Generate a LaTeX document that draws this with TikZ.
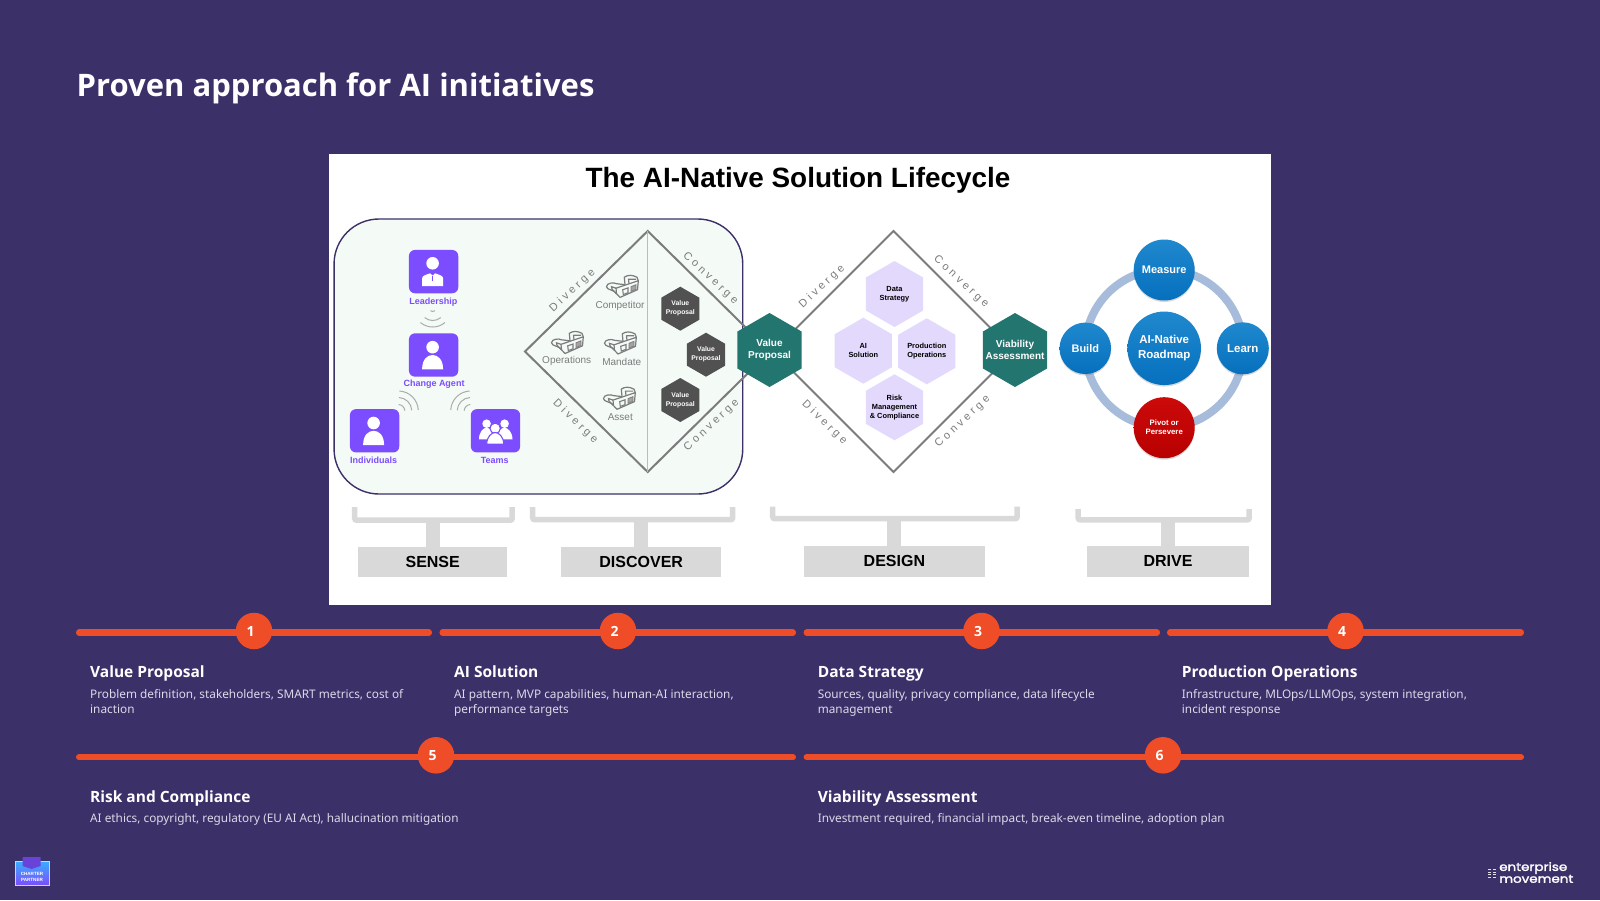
\documentclass[tikz,border=0pt]{standalone}
\usepackage{fontspec}
\setmainfont{Noto Sans}
\newfontfamily\headfont{Open Sans}
\newfontfamily\arialfont{Liberation Sans}
\newfontfamily\arialspaced[LetterSpace=30]{Liberation Sans}
\newfontfamily\logofont[FakeBold=2]{Poppins}
\usetikzlibrary{shapes.geometric,shadows}
\definecolor{bgcol}{HTML}{3C3069}
\definecolor{barcol}{HTML}{EE4D27}
\definecolor{tealcol}{HTML}{23756F}
\definecolor{darkhex}{HTML}{515151}
\definecolor{lilac}{HTML}{E2D9FC}
\definecolor{iconcol}{HTML}{7C4DFF}
\definecolor{greencol}{HTML}{F4FAF6}
\definecolor{linecol}{HTML}{7C7C7C}
\definecolor{softgray}{HTML}{D9D9D9}
\definecolor{wificol}{HTML}{ABABAB}
\definecolor{bodycol}{HTML}{DDD9E9}
\definecolor{ringcol}{HTML}{A7BBDA}
\definecolor{balltop}{HTML}{1F88CE}
\definecolor{ballbot}{HTML}{0670BE}
\definecolor{redtop}{HTML}{CC0A0A}
\definecolor{redbot}{HTML}{B80000}
\tikzset{
  hexbase/.style={regular polygon,regular polygon sides=6,shape border rotate=30,inner sep=0pt},
  tealhex/.style={hexbase,minimum size=74pt,fill=tealcol},
  darkh/.style={hexbase,minimum size=44pt,fill=darkhex},
  lilachex/.style={hexbase,minimum size=66pt,fill=lilac},
  tealtext/.style={text=white,align=center,inner sep=0pt,font=\arialfont\bfseries\fontsize{10}{11.3}\selectfont},
  darktext/.style={text=white,align=center,inner sep=0pt,font=\arialfont\bfseries\fontsize{6.8}{9}\selectfont},
  lilactext/.style={text=black,align=center,inner sep=0pt,font=\arialfont\bfseries\fontsize{7.4}{9}\selectfont},
  ball/.style 2 args={circle,inner sep=0pt,align=center,text=white,top color=#1,bottom color=#2,
    drop shadow={opacity=.3,shadow xshift=0pt,shadow yshift=-1.5pt},font=\arialfont\bfseries\fontsize{11}{15}\selectfont},
  iconbox/.style={fill=iconcol,rounded corners=6pt,minimum width=49.3pt,minimum height=43.3pt,inner sep=0pt},
  iconlabel/.style={text=iconcol,inner sep=0pt,font=\arialfont\bfseries\fontsize{9}{10}\selectfont},
  lenslabel/.style={text=linecol,inner sep=0pt,font=\arialfont\fontsize{10}{11}\selectfont},
  slanted/.style={text=linecol,inner sep=0pt,font=\arialspaced\fontsize{11}{12}\selectfont},
  diamondline/.style={draw=linecol,line width=2pt},
  wifi/.style={draw=wificol,line width=1pt},
  bracket/.style={draw=softgray,line width=5.5pt,rounded corners=2pt},
  stem/.style={draw=softgray,line width=14pt},
  phasebox/.style={fill=softgray,inner sep=0pt,font=\arialfont\bfseries\fontsize{16}{18}\selectfont},
  barline/.style={draw=barcol,line width=6.5pt,line cap=round},
  numdot/.style={circle,fill=barcol,minimum size=36.5pt,inner sep=0pt},
  numtext/.style={text=white,inner sep=0pt,font=\headfont\bfseries\fontsize{14}{16}\selectfont},
  headtext/.style={text=white,anchor=base west,inner sep=0pt,font=\headfont\bfseries\fontsize{15.5}{18}\selectfont},
  bodytext/.style={text=bodycol,anchor=base west,inner sep=0pt,font=\fontsize{11.8}{15}\selectfont},
  pics/personicon/.style={code={
    \fill[white] (-1,7.8) circle (6.3);
    \fill[white] (-11.5,-14.3) .. controls (-11.5,-4) and (-6,0) .. (-1,0) .. controls (4,0) and (9.5,-4) .. (9.5,-14.3) -- cycle;
  }},
  pics/leadericon/.style={code={
    \fill[white] (-1,8.3) circle (6.3);
    \fill[white] (-11.5,-14.4) -- (-11.5,-6.5) .. controls (-11.5,-4) and (-7,-3) .. (-3.5,-1.7) -- (-1,-4) -- (1.5,-1.7) .. controls (5,-3) and (9.5,-4) .. (9.5,-6.5) -- (9.5,-14.4) -- cycle;
    \draw[iconcol,line width=1.2pt] (-1,-4) -- (-1,-9);
  }},
  pics/teamicon/.style={code={
    \fill[white] (-8.9,7.1) circle (4.3);
    \fill[white] (9.1,7.1) circle (4.3);
    \fill[white] (-16.5,-8.5) .. controls (-16.5,-1) and (-12,3.1) .. (-9,3.1) .. controls (-6,3.1) and (-1,-1) .. (-1,-8.5) -- cycle;
    \fill[white] (1,-8.5) .. controls (1,-1) and (6,3.1) .. (9,3.1) .. controls (12,3.1) and (17,-1) .. (17,-8.5) -- cycle;
    \fill[white,draw=iconcol,line width=1.1pt] (-0.3,2.5) circle (5.2);
    \fill[white,draw=iconcol,line width=1.1pt] (-8.8,-13.4) .. controls (-8.8,-6) and (-4,-1.7) .. (-0.3,-1.7) .. controls (3.4,-1.7) and (8.2,-6) .. (8.2,-13.4) -- cycle;
  }},
  pics/glasses/.style={code={
    \draw[linecol,line width=1.2pt,line join=round] (-6,-1.5) -- (16.3,6) -- (15.5,-3) -- (-2,-10.7) -- (-5.5,-7) -- cycle;
    \draw[linecol,line width=1.2pt,line join=round] (3,2) -- (2.3,9.5) .. controls (6,12) and (10,12) .. (15,9.5) -- (16.3,6);
    \draw[linecol,line width=1.2pt,line join=round] (7,3) -- (6.5,7.5) -- (14,7.5);
    \draw[linecol,line width=1.2pt] (-5.5,-7) .. controls (-7,-3) and (-15.5,-3.5) .. (-15.5,0) .. controls (-15.5,4) and (-8,4.5) .. (-5.5,3) -- (3,2);
    \draw[linecol,line width=1.2pt] (-5.5,-7) .. controls (-7,-5) and (-11,-3) .. (-10.5,0) -- (-6,-1.5);
    \draw[linecol,line width=1.1pt] (0.7,-3) -- (6,-1.2) -- (6,-6) -- (1.3,-7.8) -- cycle;
    \draw[linecol,fill=linecol!70,line width=.8pt] (9,0) -- (14,2) -- (14,-2.7) -- (9,-4.7) -- cycle;
  }},
}
\begin{document}
\begin{tikzpicture}[x=1pt,y=1pt]
\useasboundingbox (0,-900) rectangle (1600,0);
\fill[bgcol] (0,-900) rectangle (1600,0);
\node[text=white,anchor=base west,inner sep=0pt,font=\headfont\bfseries\fontsize{31}{36}\selectfont] (title) at (76.5,-96) {Proven approach for AI initiatives};
% white panel
\fill[white] (329,-154) rectangle (1271,-605);
\node[anchor=base,inner sep=0pt,font=\arialfont\bfseries\fontsize{27.9}{32}\selectfont] (paneltitle) at (798,-187) {The AI-Native Solution Lifecycle};
\node[draw=bgcol,fill=greencol,line width=1.4pt,rounded corners=45pt,minimum width=408.7pt,minimum height=275pt,inner sep=0pt] (sensearea) at (538.4,-356.5) {};
% sense icons
\node[iconbox] (leader) at (433.6,-271.6) {};
\node[iconbox] (agent) at (433.6,-355) {};
\node[iconbox] (indiv) at (374.6,-430.8) {};
\node[iconbox] (teams) at (495.5,-430.8) {};
\pic at (leader) {leadericon};
\pic at (agent) {personicon};
\pic at (indiv) {personicon};
\pic at (teams) {teamicon};
\node[iconlabel] (leaderlabel) at (433.3,-301.7) {Leadership};
\node[iconlabel] (agentlabel) at (434,-384.3) {Change Agent};
\node[iconlabel] (indivlabel) at (373.7,-460) {Individuals};
\node[iconlabel] (teamslabel) at (494.7,-460) {Teams};
\foreach \r in {3.5,12.5,19} \draw[wifi] ([shift={(230:\r)}]432.7,-308) arc (230:310:\r);
\foreach \r in {6.5,13.5,20} {
  \draw[wifi] ([shift={(3:\r)}]398.3,-411) arc (3:87:\r);
  \draw[wifi] ([shift={(93:\r)}]470.7,-411) arc (93:177:\r);
}
% diamonds
\draw[diamondline] (525,-351.5) -- (647.7,-231) -- (770,-351.5) -- (647.7,-472) -- cycle;
\draw[draw=wificol!80,line width=1pt] (647.7,-231) -- (647.7,-472);
\draw[diamondline] (773,-351.5) -- (893.5,-231) -- (1014,-351.5) -- (893.5,-472) -- cycle;
\node[slanted,rotate=43] (dvga) at (572.5,-290.5) {Diverge};
\node[slanted,rotate=-43] (cvga) at (710.3,-278.3) {Converge};
\node[slanted,rotate=-44] (dvgb) at (575.3,-421.7) {Diverge};
\node[slanted,rotate=43] (cvgb) at (711.7,-425) {Converge};
\node[slanted,rotate=43] (dvgc) at (822,-286.8) {Diverge};
\node[slanted,rotate=-43] (cvgc) at (961,-282) {Converge};
\node[slanted,rotate=-44] (dvgd) at (824.4,-422.7) {Diverge};
\node[slanted,rotate=43] (cvgd) at (962.7,-421.7) {Converge};
% glasses
\pic at (622,-286.7) {glasses};
\pic at (567,-342.8) {glasses};
\pic at (620,-343.3) {glasses};
\pic at (619,-398.6) {glasses};
\node[lenslabel] (competitor) at (620,-306.3) {Competitor};
\node[lenslabel] (operations) at (566.7,-361) {Operations};
\node[lenslabel] (mandate) at (621.7,-361.7) {Mandate};
\node[lenslabel] (asset) at (620.3,-416.7) {Asset};
% hexagons
\foreach \name/\x/\y in {vpa/680.3/308.7,vpb/706/354.7,vpc/680.3/400} {
  \node[darkh] (\name) at (\x,-\y) {};
  \node[darktext] (\name text) at (\name) {Value\\Proposal};
}
\node[tealhex] (valueprop) at (769.5,-350) {};
\node[tealtext] (valuetext) at (valueprop) {Value\\Proposal};
\node[tealhex] (viability) at (1015,-350) {};
\node[tealtext] (viabtext) at (viability) {Viability\\Assessment};
\node[lilachex] (datastrat) at (894.5,-294) {};
\node[lilachex] (aisol) at (863.3,-350.7) {};
\node[lilachex] (prodops) at (926.8,-351.3) {};
\node[lilachex] (riskmgmt) at (894.5,-407.3) {};
\node[lilactext] (datatext) at (datastrat) {Data\\Strategy};
\node[lilactext] (aitext) at (aisol) {AI\\Solution};
\node[lilactext] (prodtext) at (prodops) {Production\\Operations};
\node[lilactext] (risktext) at (riskmgmt) {Risk\\Management\\\& Compliance};
% drive ring
\draw[ringcol,line width=8pt] (1164.2,-348.5) circle (79);
\node[ball={balltop}{ballbot},minimum size=61pt] (measure) at (1164.2,-270) {Measure};
\node[ball={balltop}{ballbot},minimum size=73.5pt,font=\arialfont\bfseries\fontsize{11.5}{15}\selectfont] (roadmap) at (1164.2,-348.3) {AI-Native\\Roadmap};
\node[ball={balltop}{ballbot},minimum size=51.5pt] (build) at (1085.3,-348.3) {Build};
\node[ball={balltop}{ballbot},minimum size=52pt,font=\arialfont\bfseries\fontsize{11.5}{15}\selectfont] (learn) at (1242.8,-348.3) {Learn};
\node[ball={redtop}{redbot},minimum size=61pt,font=\arialfont\bfseries\fontsize{7.8}{9}\selectfont] (pivot) at (1164.2,-427.7) {Pivot or\\Persevere};
% phase labels
\node[phasebox,minimum width=148.5pt,minimum height=30pt] (sense) at (432.7,-561.7) {\raisebox{-2.2pt}{SENSE}};
\node[phasebox,minimum width=159.5pt,minimum height=30pt] (discover) at (641.2,-561.7) {\raisebox{-2.2pt}{DISCOVER}};
\node[phasebox,minimum width=181pt,minimum height=31pt] (design) at (894.4,-561.2) {\raisebox{-3pt}{DESIGN}};
\node[phasebox,minimum width=162pt,minimum height=30.7pt] (drive) at (1168,-561.4) {\raisebox{-3pt}{DRIVE}};
\draw[stem] (sense.north) -- ++(0,26);
\draw[stem] (discover.north) -- ++(0,27);
\draw[stem] (design.north) -- ++(0,27);
\draw[stem] (drive.north) -- ++(0,27);
\draw[bracket] (354.7,-507) -- (354.7,-520.2) -- (512.2,-520.2) -- (512.2,-507);
\draw[bracket] (532.7,-507) -- (532.7,-519.7) -- (732.7,-519.7) -- (732.7,-507);
\draw[bracket] (772.7,-506.7) -- (772.7,-518.7) -- (1017.2,-518.7) -- (1017.2,-506.7);
\draw[bracket] (1078.2,-509) -- (1078.2,-519.9) -- (1249.2,-519.9) -- (1249.2,-509);
% timeline
\foreach \xa/\xb in {79.2/428.8,442.7/792.8,806.8/1156.8,1170.2/1520.8} \draw[barline] (\xa,-632.7) -- (\xb,-632.7);
\foreach \xa/\xb in {79.2/792.8,806.8/1520.8} \draw[barline] (\xa,-757.2) -- (\xb,-757.2);
\foreach \n/\x/\y in {1/254/631,2/618/631,3/981.5/631,4/1345.5/631,5/436/755.3,6/1163/755.3} {
  \node[numdot] (dot\n) at (\x,-\y) {};
  \node[numtext] (num\n) at ([xshift=-3.5pt,yshift=-0.5pt]dot\n) {\n};
}
\foreach \n/\x/\head/\linea/\lineb in {
  1/90/{Value Proposal}/{Problem definition, stakeholders, SMART metrics, cost of}/{inaction},
  2/454/{AI Solution}/{AI pattern, MVP capabilities, human-AI interaction,}/{performance targets},
  3/817.6/{Data Strategy}/{Sources, quality, privacy compliance, data lifecycle}/{management},
  4/1181.7/{Production Operations}/{Infrastructure, MLOps/LLMOps, system integration,}/{incident response}} {
  \node[headtext] (head\n) at (\x,-677.3) {\head};
  \node[bodytext] (bodya\n) at (\x,-698.3) {\linea};
  \node[bodytext] (bodyb\n) at (\x,-713.7) {\lineb};
}
\foreach \n/\x/\head/\linea in {
  5/90/{Risk and Compliance}/{AI ethics, copyright, regulatory (EU AI Act), hallucination mitigation},
  6/817.6/{Viability Assessment}/{Investment required, financial impact, break-even timeline, adoption plan}} {
  \node[headtext] (head\n) at (\x,-802) {\head};
  \node[bodytext] (bodya\n) at (\x,-822.7) {\linea};
}
% logos
\draw[white!70!iconcol,line width=.6pt,top color=cyan!55!iconcol,bottom color=iconcol] (15,-861) rectangle (49,-885);
\fill[iconcol!85!black] (22.7,-857) -- (40.7,-857) -- (40.7,-866) -- (31.7,-869) -- (22.7,-866) -- cycle;
\node[text=white,align=center,inner sep=0pt,font=\arialfont\bfseries\fontsize{4.6}{6}\selectfont] (badge) at (32,-876.5) {CHARTER\\PARTNER};
\foreach \y in {869,871.5,874,876.5} {
  \fill[white!85!bgcol] (1488,-\y) rectangle (1491,-\y-1.3);
  \fill[white!85!bgcol] (1493,-\y) rectangle (1496,-\y-1.3);
}
\node[text=white,align=left,inner sep=0pt,anchor=west,xscale=1.17,transform shape,font=\logofont\fontsize{11.5}{9.6}\selectfont] (brand) at (1499,-872.5) {enterprise\\movement};
\end{tikzpicture}
\end{document}
